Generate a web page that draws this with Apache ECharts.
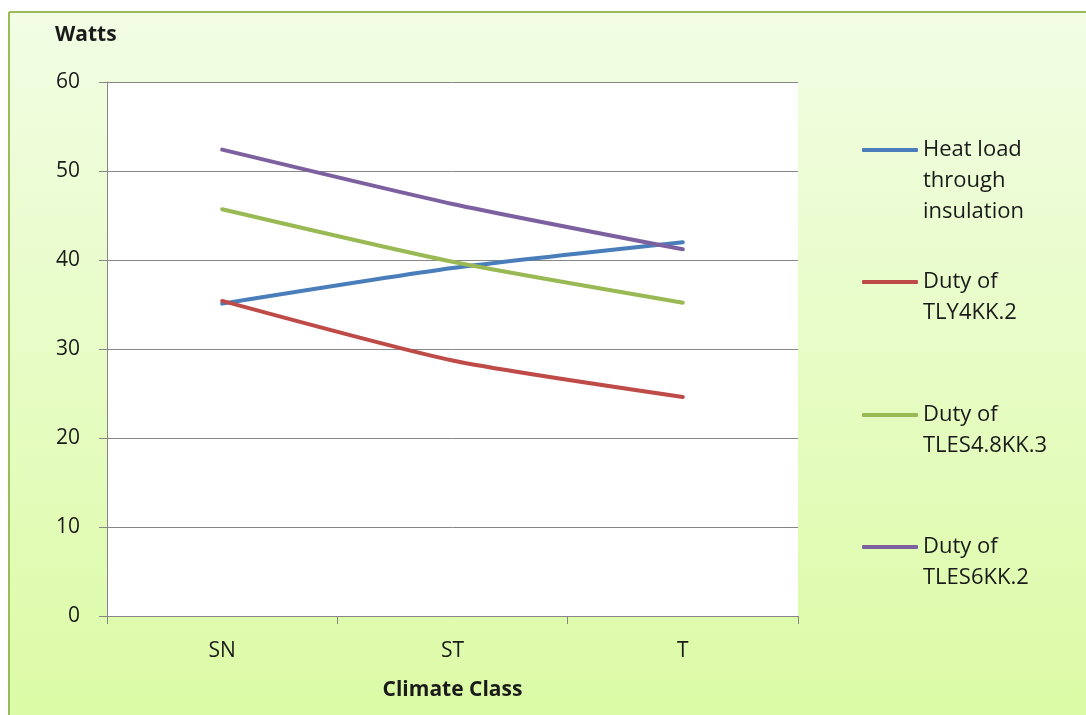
<!DOCTYPE html>
<html>
<head>
<meta charset="utf-8">
<title>Watts by Climate Class</title>
<script src="https://cdn.jsdelivr.net/npm/echarts@6/dist/echarts.min.js"></script>
<style>
  html, body { margin: 0; padding: 0; background: #ffffff; }
  #chart { width: 1086px; height: 715px; }
</style>
</head>
<body>
<div id="chart"></div>
<script>
// Climate classes on the x axis
const categories = ['SN', 'ST', 'T'];

// Power values in watts for each climate class
const heatLoad = [35.1, 39.1, 42.0];
const dutyTLY4KK2 = [35.4, 28.7, 24.6];
const dutyTLES48KK3 = [45.7, 39.8, 35.2];
const dutyTLES6KK2 = [52.4, 46.3, 41.2];

// Legend names (wrapped as in the chart key)
const seriesNames = [
  'Heat load through insulation',
  'Duty of TLY4KK.2',
  'Duty of TLES4.8KK.3',
  'Duty of TLES6KK.2'
];
const legendLines = [
  ['Heat load', 'through', 'insulation'],
  ['Duty of', 'TLY4KK.2'],
  ['Duty of', 'TLES4.8KK.3'],
  ['Duty of', 'TLES6KK.2']
];

const seriesData = [heatLoad, dutyTLY4KK2, dutyTLES48KK3, dutyTLES6KK2];
const colors = ['#4a7ebb', '#be4b48', '#98b954', '#7d60a0'];

const FONT = '"Open Sans", Lato, sans-serif';
const TEXT = '#1a1a1a';
const LINE_H = 31;
const legendIconY = [150, 282, 415, 547];

const chart = echarts.init(document.getElementById('chart'), null, { renderer: 'canvas' });

// Each key entry is its own legend so the icon lines up with the first text line
const legends = legendLines.map((lines, i) => {
  const pad = lines.length - 1;
  const all = new Array(pad).fill('').concat(lines);
  const total = all.length;
  return {
    data: [{ name: seriesNames[i], icon: 'roundRect' }],
    orient: 'vertical',
    left: 862,
    top: legendIconY[i] - (total * LINE_H) / 2,
    padding: 0,
    itemWidth: 56,
    itemHeight: 4,
    itemGap: 0,
    textStyle: {
      fontFamily: FONT,
      fontSize: 22,
      color: TEXT,
      lineHeight: LINE_H,
      padding: [0, 0, 0, 0]
    },
    formatter: () => all.join('\n'),
    selectedMode: false
  };
});

const option = {
  animation: false,
  backgroundColor: 'transparent',
  color: colors,
  graphic: [
    {
      type: 'rect',
      z: -10,
      silent: true,
      shape: { x: 9, y: 12, width: 1100, height: 720 },
      style: {
        fill: new echarts.graphic.LinearGradient(0, 0, 0, 1, [
          { offset: 0, color: '#f2fde4' },
          { offset: 1, color: '#dbfba4' }
        ]),
        stroke: null
      }
    },
    {
      type: 'line',
      z: -9,
      silent: true,
      shape: { x1: 9, y1: 12, x2: 1086, y2: 12 },
      style: { stroke: '#9bbb59', lineWidth: 2 }
    },
    {
      type: 'line',
      z: -9,
      silent: true,
      shape: { x1: 9, y1: 12, x2: 9, y2: 715 },
      style: { stroke: '#9bbb59', lineWidth: 2 }
    },
    {
      type: 'text',
      left: 55,
      top: 25,
      style: {
        text: 'Watts',
        fontFamily: FONT,
        fontSize: 21,
        fontWeight: 'bold',
        fill: TEXT
      }
    }
  ],
  legend: legends,
  grid: {
    left: 107,
    top: 82,
    right: 288,
    bottom: 99,
    containLabel: false,
    show: true,
    backgroundColor: '#ffffff',
    borderWidth: 0
  },
  xAxis: {
    type: 'category',
    data: categories,
    boundaryGap: true,
    name: 'Climate Class',
    nameLocation: 'middle',
    nameGap: 64,
    nameTextStyle: {
      fontFamily: FONT,
      fontSize: 21,
      fontWeight: 'bold',
      color: TEXT
    },
    axisLine: { show: true, lineStyle: { color: '#868686', width: 1 } },
    axisTick: { show: true, length: 8, inside: false, alignWithLabel: false, lineStyle: { color: '#868686' } },
    axisLabel: {
      fontFamily: FONT,
      fontSize: 21,
      color: TEXT,
      margin: 25
    },
    splitLine: { show: false }
  },
  yAxis: {
    type: 'value',
    min: 0,
    max: 60,
    interval: 10,
    axisLine: { show: true, lineStyle: { color: '#868686', width: 1 } },
    axisTick: { show: true, length: 8, inside: false, lineStyle: { color: '#868686' } },
    axisLabel: {
      fontFamily: FONT,
      fontSize: 21,
      color: TEXT,
      margin: 27
    },
    splitLine: { show: true, lineStyle: { color: '#868686', width: 1 } }
  },
  series: seriesNames.map((name, i) => ({
    name: name,
    type: 'line',
    data: seriesData[i],
    smooth: 0.2,
    symbol: 'none',
    lineStyle: { width: 4, color: colors[i], cap: 'round' },
    itemStyle: { color: colors[i] },
    z: 2 + i
  }))
};

chart.setOption(option);
</script>
</body>
</html>
